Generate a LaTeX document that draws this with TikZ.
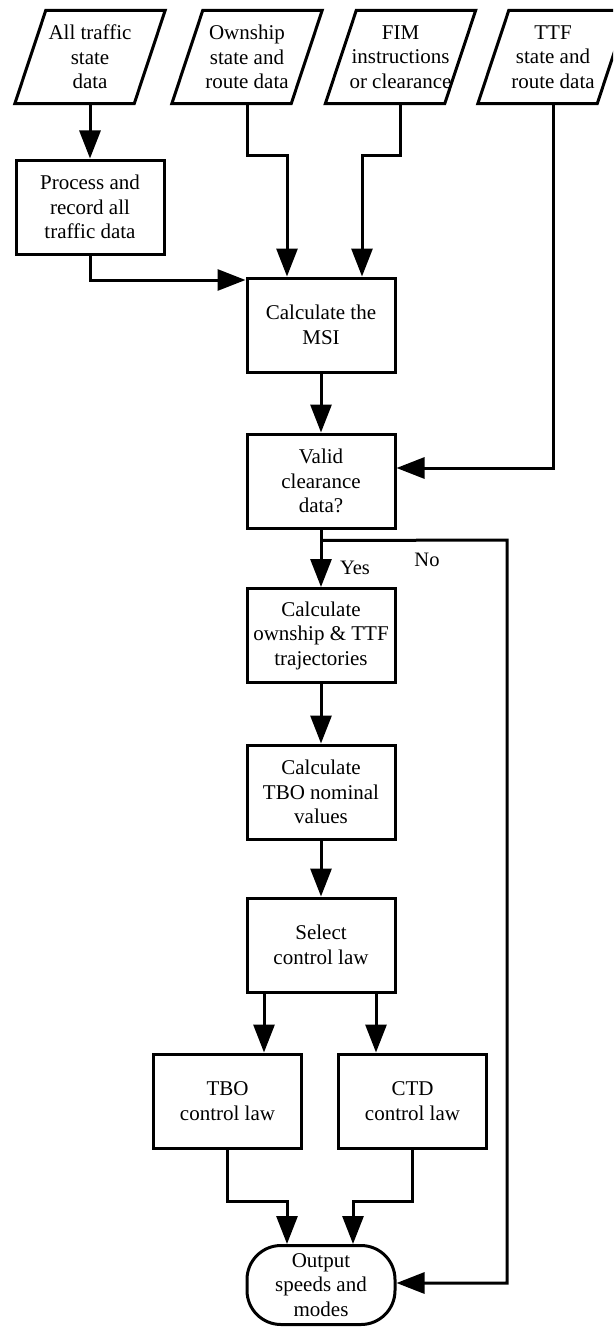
\documentclass[tikz,border=0pt]{standalone}
\usepackage{fontspec}
\setmainfont{Liberation Serif}
\usetikzlibrary{arrows.meta,calc}
\begin{document}
\begin{tikzpicture}[x=1pt,y=-1pt,
  every node/.style={font=\fontsize{21}{24.5}\selectfont, align=center, inner sep=0pt},
  box/.style={draw, line width=3pt, minimum width=148pt, minimum height=94pt},
  io/.style={minimum width=119pt, minimum height=93pt},
  term/.style={draw, line width=3pt, rounded corners=34pt, minimum width=148pt, minimum height=79pt},
  link/.style={line width=3pt, -{Triangle[length=28pt,width=21pt]}},
  plain/.style={line width=3pt},
  lbl/.style={font=\fontsize{20.5}{24}\selectfont}]
\useasboundingbox (0,0) rectangle (613,1327);
\clip (0,0) rectangle (613,1327);

% input parallelograms
\node[io] (p1) at (90,57) {All traffic\\state\\data};
\node[io] (p2) at (247,57) {Ownship\\state and\\route data};
\node[io] (p3) at (400.5,57) {FIM\\instructions\\or clearance};
\node[io] (p4) at (553,57) {TTF\\state and\\route data};
\foreach \n in {p1,p2,p3,p4}
  \draw[plain] ([xshift=-15.5pt]\n.south west) -- ([xshift=-15.5pt]\n.south east)
    -- ([xshift=15.5pt]\n.north east) -- ([xshift=15.5pt]\n.north west) -- cycle;

% process boxes
\node[box] (proc) at (90,207) {Process and\\record all\\traffic data};
\node[box] (msi) at (321,325) {Calculate the\\MSI};
\node[box] (valid) at (321,481) {Valid\\clearance\\data?};
\node[box] (traj) at (321,635.5) {Calculate\\ownship \& TTF\\trajectories};
\node[box] (nom) at (321,792) {Calculate\\TBO nominal\\values};
\node[box] (sel) at (321,945) {Select\\control law};
\node[box] (tbo) at (227.5,1101) {TBO\\control law};
\node[box] (ctd) at (412.5,1101) {CTD\\control law};
\node[term] (out) at (321,1285) {Output\\speeds and\\modes};

% labels
\node[lbl] (yes) at (355,568) {Yes};
\node[lbl] (no) at (427,560) {No};

% connectors
\draw[link] (p1.south) -- (proc.north);
\draw[link] (proc.south) |- ($(msi.north west)+(0,3.5)$);
\draw[link] (p2.south) -- ++(0,52) -| ($(msi.north)+(-34,0)$);
\draw[link] (p3.south) -- ++(0,52) -| ($(msi.north)+(41,0)$);
\draw[link] (p4.south) |- ($(valid.east)+(0,-13)$);
\draw[link] (msi) -- (valid);
\draw[link] (valid) -- (traj);
\coordinate (br) at ($(valid.south)+(0,11)$);
\coordinate (nr) at (507,540);
\coordinate (nb) at (507,1283);
\draw[link] (br) -- (nr) -- (nb) -- (out.east |- nb);
\draw[link] (traj) -- (nom);
\draw[link] (nom) -- (sel);
\draw[link] ($(sel.south)+(-57,0)$) coordinate (s1) -- (s1 |- tbo.north);
\draw[link] ($(sel.south)+(55,0)$) coordinate (s2) -- (s2 |- ctd.north);
\draw[link] (tbo.south) -- ++(0,52) -| ($(out.north)+(-34,0)$);
\draw[link] (ctd.south) -- ++(0,52) -| ($(out.north)+(32,0)$);
\end{tikzpicture}
\end{document}
